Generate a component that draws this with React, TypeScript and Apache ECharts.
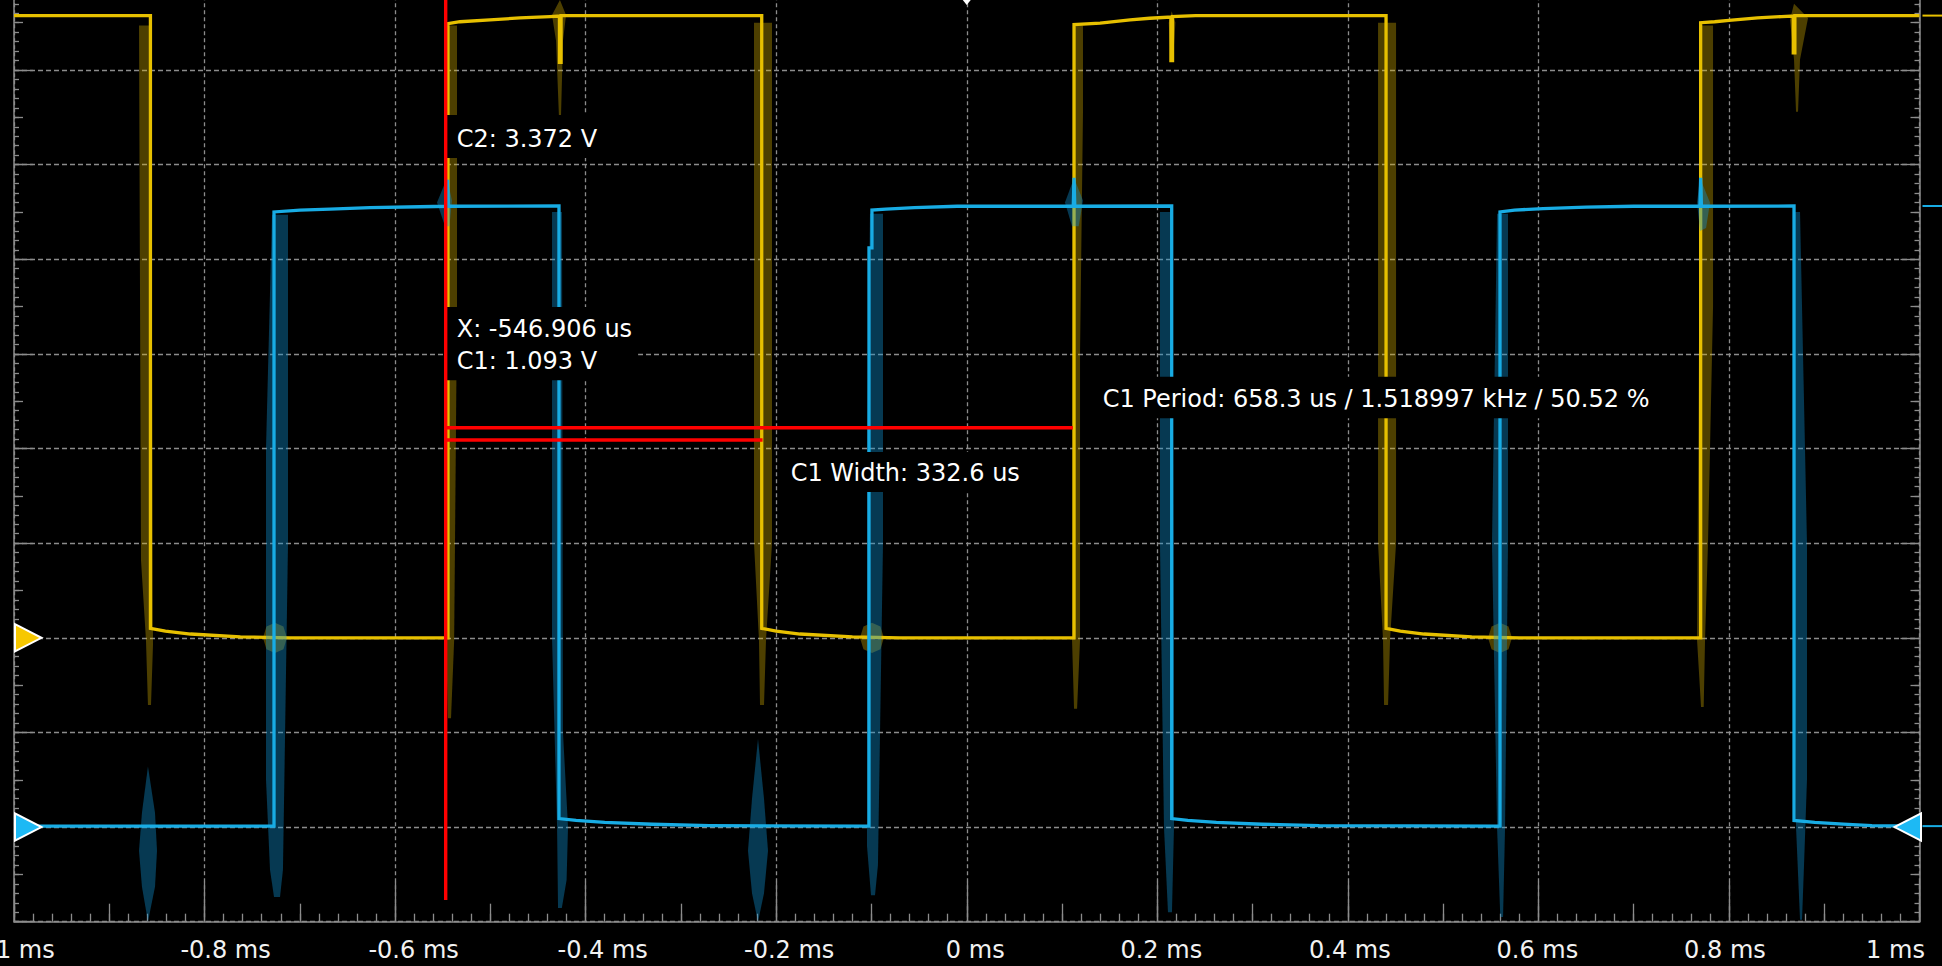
import React, { useEffect, useRef } from 'react';
import * as echarts from 'echarts';

// ---------- axes (time in ms, vertical in screen divisions) ----------
const X_MIN = -1;
const X_MAX = 1;
const X_INTERVAL = 0.2;
const X_HALF_INTERVAL = 0.1;
const X_TICK_LABELS = ['-1', '-0.8', '-0.6', '-0.4', '-0.2', '0', '0.2', '0.4', '0.6', '0.8', '1'];
const X_UNIT = 'ms';
const Y_MIN = 0;
const Y_MAX = 10;

// ---------- channel C2 (yellow) main trace [t ms, div] ----------
const C2_TRACE: number[][] = [
  [-1.0, 9.575], [-0.8568, 9.575], [-0.8568, 3.1], [-0.8411, 3.07], [-0.8148, 3.04], [-0.7624, 3.01],
  [-0.7103, 3.0], [-0.5445, 3.0], [-0.5445, 9.49], [-0.5319, 9.51], [-0.5004, 9.53], [-0.4689, 9.55],
  [-0.4374, 9.565], [-0.4275, 9.57], [-0.4275, 9.08], [-0.4258, 9.08], [-0.4258, 9.575], [-0.2152, 9.575],
  [-0.2152, 3.1], [-0.2, 3.07], [-0.175, 3.04], [-0.12, 3.01], [-0.07, 3.0], [0.1126, 3.0], [0.1126, 9.48],
  [0.14, 9.495], [0.1715, 9.53], [0.192, 9.547], [0.2143, 9.56], [0.2143, 9.1], [0.216, 9.1], [0.216, 9.565],
  [0.24, 9.575], [0.4401, 9.575], [0.4401, 3.1], [0.455, 3.07], [0.48, 3.04], [0.53, 3.01], [0.58, 3.0],
  [0.7703, 3.0], [0.7703, 9.5], [0.785, 9.51], [0.8, 9.525], [0.83, 9.55], [0.855, 9.565], [0.8675, 9.57],
  [0.8675, 9.18], [0.8692, 9.18], [0.8692, 9.575], [1.0, 9.575],
];

// ---------- channel C1 (cyan) main trace ----------
const C1_TRACE: number[][] = [
  [-1.0, 1.01], [-0.7271, 1.01], [-0.7271, 7.5], [-0.6998, 7.52], [-0.6683, 7.53], [-0.6263, 7.545],
  [-0.5739, 7.555], [-0.5458, 7.56], [-0.545, 7.84], [-0.5442, 7.56], [-0.428, 7.563], [-0.428, 1.09],
  [-0.41, 1.07], [-0.38, 1.05], [-0.33, 1.03], [-0.27, 1.015], [-0.1026, 1.01], [-0.1026, 7.12],
  [-0.0995, 7.12], [-0.0995, 7.52], [-0.085, 7.53], [-0.055, 7.545], [-0.01, 7.56], [0.1118, 7.56],
  [0.1126, 7.86], [0.1134, 7.56], [0.2151, 7.563], [0.2151, 1.09], [0.232, 1.07], [0.262, 1.05],
  [0.31, 1.03], [0.37, 1.015], [0.5597, 1.01], [0.5597, 7.5], [0.575, 7.52], [0.605, 7.535], [0.65, 7.55],
  [0.7, 7.56], [0.7695, 7.56], [0.7703, 7.86], [0.7711, 7.56], [0.8683, 7.563], [0.8683, 1.07],
  [0.89, 1.05], [0.92, 1.03], [0.95, 1.015], [1.0, 1.01],
];

// ---------- persistence envelopes (ringing / crosstalk) ----------
const C2_GLOW: number[][][] = [
  [[-0.8688, 9.47], [-0.8562, 9.47], [-0.8541, 2.93], [-0.8562, 2.29], [-0.8594, 2.29], [-0.8615, 2.98], [-0.8667, 3.82]],
  [[-0.5455, 9.47], [-0.535, 9.47], [-0.535, 6.5], [-0.538, 2.98], [-0.5413, 2.15], [-0.5445, 2.15], [-0.5466, 2.98]],
  [[-0.427, 9.74], [-0.4206, 9.58], [-0.4238, 9.31], [-0.4259, 8.5], [-0.428, 8.5], [-0.4311, 9.31], [-0.4353, 9.58]],
  [[-0.2233, 9.5], [-0.2044, 9.5], [-0.2044, 4.0], [-0.2107, 2.98], [-0.2128, 2.29], [-0.217, 2.29], [-0.2181, 2.98], [-0.2233, 4.0]],
  [[0.1115, 9.47], [0.122, 9.47], [0.122, 8.55], [0.1189, 6.0], [0.1189, 2.98], [0.1158, 2.25], [0.1126, 2.25], [0.1105, 2.98]],
  [[0.2151, 9.62], [0.219, 9.5], [0.2165, 9.1], [0.214, 9.1], [0.212, 9.5]],
  [[0.4317, 9.5], [0.4506, 9.5], [0.4506, 4.0], [0.4443, 2.98], [0.4422, 2.29], [0.438, 2.29], [0.4369, 2.98], [0.4317, 4.0]],
  [[0.7707, 9.47], [0.7833, 9.47], [0.7833, 6.5], [0.778, 4.0], [0.7749, 2.98], [0.7735, 2.27], [0.7707, 2.27], [0.7665, 2.98]],
  [[0.8683, 9.7], [0.883, 9.55], [0.8746, 9.11], [0.8725, 8.56], [0.8704, 8.56], [0.8683, 9.11], [0.8641, 9.53]],
  [[-0.7387, 3.0], [-0.735, 3.12], [-0.7261, 3.16], [-0.7172, 3.12], [-0.7135, 3.0], [-0.7172, 2.88], [-0.7261, 2.84], [-0.735, 2.88]],
  [[-0.1121, 3.0], [-0.1084, 3.12], [-0.0995, 3.16], [-0.0906, 3.12], [-0.0869, 3.0], [-0.0906, 2.88], [-0.0995, 2.84], [-0.1084, 2.88]],
  [[0.5471, 3.0], [0.5508, 3.12], [0.5597, 3.16], [0.5686, 3.12], [0.5723, 3.0], [0.5686, 2.88], [0.5597, 2.84], [0.5508, 2.88]],
];

const C1_GLOW: number[][][] = [
  [[-0.7292, 7.47], [-0.7124, 7.47], [-0.7124, 4.0], [-0.7177, 0.55], [-0.7208, 0.26], [-0.7271, 0.26], [-0.7313, 0.55], [-0.7355, 1.5], [-0.7355, 5.0]],
  [[-0.4353, 7.5], [-0.4248, 7.5], [-0.4238, 2.0], [-0.4185, 1.0], [-0.42, 0.44], [-0.425, 0.145], [-0.429, 0.145], [-0.43, 1.0], [-0.4353, 3.0]],
  [[-0.1016, 7.48], [-0.0879, 7.48], [-0.0879, 4.0], [-0.0932, 0.6], [-0.0963, 0.28], [-0.1005, 0.28], [-0.1047, 0.8], [-0.1047, 5.0]],
  [[0.2028, 7.5], [0.2154, 7.5], [0.2175, 3.0], [0.2175, 1.0], [0.2154, 0.1], [0.2112, 0.1], [0.207, 1.0], [0.2028, 4.0]],
  [[0.5566, 7.48], [0.5681, 7.48], [0.5681, 4.0], [0.565, 1.0], [0.5629, 0.05], [0.56, 0.05], [0.5566, 1.0], [0.5513, 4.0]],
  [[0.8683, 7.5], [0.8746, 7.5], [0.8819, 4.0], [0.8819, 1.5], [0.8788, 0.6], [0.8767, 0.02], [0.8746, 0.02], [0.8704, 1.0], [0.8683, 4.0]],
  [[-0.8594, 1.64], [-0.852, 1.15], [-0.8499, 0.75], [-0.852, 0.37], [-0.8594, 0.0], [-0.8657, 0.37], [-0.8688, 0.75], [-0.8657, 1.15]],
  [[-0.2191, 1.93], [-0.2128, 1.3], [-0.2086, 0.75], [-0.2128, 0.3], [-0.2191, 0.0], [-0.2254, 0.3], [-0.2296, 0.75], [-0.2254, 1.3]],
  [[-0.5455, 7.86], [-0.5403, 7.62], [-0.543, 7.35], [-0.5476, 7.35], [-0.556, 7.6]],
  [[0.1126, 7.86], [0.122, 7.62], [0.1175, 7.35], [0.1105, 7.35], [0.1031, 7.6]],
  [[0.7696, 7.86], [0.7801, 7.6], [0.776, 7.33], [0.7696, 7.3], [0.7665, 7.6]],
];

// ---------- cursor / measurement ----------
const CURSOR_LINE: number[][] = [[-0.546906, 0.23], [-0.546906, 10]];
const PERIOD_LINE: number[][] = [[-0.546906, 5.22], [0.111394, 5.22]];
const WIDTH_LINE: number[][] = [[-0.546906, 5.09], [-0.214306, 5.09]];
const READOUT_C2 = 'C2: 3.372 V';
const READOUT_X = 'X: -546.906 us\nC1: 1.093 V';
const READOUT_PERIOD = 'C1 Period: 658.3 us / 1.518997 kHz / 50.52 %';
const READOUT_WIDTH = 'C1 Width: 332.6 us';

// ---------- channel markers ----------
const MARKER_KINDS = ['c2-offset', 'c1-offset', 'c1-trigger', 'c2-edge', 'c1-edge', 'c1-edge', 'trigger-pos'];
const MARKER_T = [-1, -1, 1, 1, 1, 1, 0];
const MARKER_D = [3.0, 1.0, 1.0, 9.575, 7.563, 1.01, 9.74];

// horizontal shift (px) of each tick label's centre from its tick, as laid out in the reference
const X_LABEL_SHIFT = [7, 21, 18.5, 17, 13, 8.5, 4, 2, -1, -4, -24];

const C2_COLOR = '#E7C000';
const C1_COLOR = '#18ACE4';
const C2_MARK = '#F7C800';
const C1_MARK = '#1DB9F4';
const C2_GLOW_COLOR = 'rgba(225,185,0,0.34)';
const C1_GLOW_COLOR = 'rgba(15,150,215,0.38)';
const GRID_COLOR = '#8c8c8c';
const FONT = '"DejaVu Sans", "Noto Sans", sans-serif';
const FONT_SIZE = 24;

function glowSeries(polys: number[][][], color: string, z: number) {
  return {
    type: 'custom',
    xAxisIndex: 0,
    yAxisIndex: 0,
    z,
    silent: true,
    clip: true,
    data: polys.map((p, i) => [p[0][0], p[0][1], i]),
    encode: { x: 0, y: 1 },
    renderItem: (params: any, api: any) => {
      const poly = polys[params.dataIndex];
      return {
        type: 'polygon',
        shape: { points: poly.map((pt) => api.coord(pt)) },
        style: { fill: color },
      };
    },
  };
}

function lineSeries(data: number[][], color: string, width: number, z: number) {
  return {
    type: 'line',
    xAxisIndex: 0,
    yAxisIndex: 0,
    data,
    z,
    silent: true,
    symbol: 'none',
    showSymbol: false,
    clip: true,
    lineStyle: { color, width, cap: 'butt', join: 'miter' },
  };
}

function readout(text: string, x: number, y: number, padding: number[], lineHeight: number) {
  return {
    type: 'text',
    x,
    y,
    z: 50,
    silent: true,
    style: {
      text,
      fill: '#ffffff',
      fontSize: FONT_SIZE,
      fontFamily: FONT,
      lineHeight,
      backgroundColor: '#000000',
      padding,
      align: 'left',
      verticalAlign: 'top',
    },
  };
}

export default function App() {
  const ref = useRef<HTMLDivElement>(null);

  useEffect(() => {
    if (!ref.current) return;
    const chart = echarts.init(ref.current, null, { renderer: 'svg' });

    const axisLineStyle = { color: GRID_COLOR, width: 1.5 };
    const tickStyle = { color: GRID_COLOR, width: 1.3 };

    const rich: any = { t: { color: '#f2f2f2', fontSize: FONT_SIZE, fontFamily: FONT } };
    X_LABEL_SHIFT.forEach((s, i) => {
      rich['s' + i] = { width: Math.abs(s) * 2, fontSize: FONT_SIZE, fontFamily: FONT };
    });

    const option: any = {
      animation: false,
      backgroundColor: '#000000',
      grid: {
        left: 14,
        right: 22.5,
        top: -24.63,
        bottom: 44.3,
        containLabel: false,
        outerBoundsMode: 'none',
      },
      xAxis: [
        {
          type: 'value',
          position: 'bottom',
          min: X_MIN,
          max: X_MAX,
          interval: X_INTERVAL,
          axisLine: { show: true, onZero: false, lineStyle: axisLineStyle },
          axisTick: { show: true, inside: true, length: 40, lineStyle: tickStyle },
          minorTick: { show: true, splitNumber: 10, length: 8, lineStyle: tickStyle },
          splitLine: { show: true, lineStyle: { color: GRID_COLOR, width: 1.3, type: [4, 3] } },
          axisLabel: {
            show: true,
            showMinLabel: true,
            showMaxLabel: true,
            hideOverlap: false,
            margin: 16,
            color: '#f2f2f2',
            fontSize: FONT_SIZE,
            fontFamily: FONT,
            formatter: (v: number) => {
              const i = Math.round((v - X_MIN) / X_INTERVAL);
              const s = `${X_TICK_LABELS[i]} ${X_UNIT}`;
              return X_LABEL_SHIFT[i] >= 0 ? `{s${i}| }{t|${s}}` : `{t|${s}}{s${i}| }`;
            },
            rich,
          },
        },
        {
          type: 'value',
          position: 'bottom',
          min: X_MIN,
          max: X_MAX,
          interval: X_HALF_INTERVAL,
          axisLine: { show: false, onZero: false },
          axisTick: { show: true, inside: true, length: 18, lineStyle: tickStyle },
          splitLine: { show: false },
          axisLabel: { show: false },
        },
      ],
      yAxis: [
        {
          type: 'value',
          position: 'left',
          min: Y_MIN,
          max: Y_MAX,
          interval: 1,
          axisLine: { show: true, onZero: false, lineStyle: axisLineStyle },
          axisTick: { show: true, inside: true, length: 19, lineStyle: tickStyle },
          minorTick: { show: true, splitNumber: 10, length: 5, lineStyle: tickStyle },
          splitLine: { show: true, lineStyle: { color: GRID_COLOR, width: 1.3, type: [5, 3] } },
          axisLabel: { show: false },
        },
        {
          type: 'value',
          position: 'left',
          min: Y_MIN,
          max: Y_MAX,
          interval: 0.5,
          axisLine: { show: false, onZero: false },
          axisTick: { show: true, inside: true, length: 9, lineStyle: tickStyle },
          splitLine: { show: false },
          axisLabel: { show: false },
        },
        {
          type: 'value',
          position: 'right',
          min: Y_MIN,
          max: Y_MAX,
          interval: 1,
          axisLine: { show: true, onZero: false, lineStyle: axisLineStyle },
          axisTick: { show: true, inside: true, length: 19, lineStyle: tickStyle },
          minorTick: { show: true, splitNumber: 10, length: 5, lineStyle: tickStyle },
          splitLine: { show: false },
          axisLabel: { show: false },
        },
        {
          type: 'value',
          position: 'right',
          min: Y_MIN,
          max: Y_MAX,
          interval: 0.5,
          axisLine: { show: false, onZero: false },
          axisTick: { show: true, inside: true, length: 9, lineStyle: tickStyle },
          splitLine: { show: false },
          axisLabel: { show: false },
        },
      ],
      series: [
        glowSeries(C2_GLOW, C2_GLOW_COLOR, 1),
        lineSeries(C2_TRACE, C2_COLOR, 3.3, 2),
        glowSeries(C1_GLOW, C1_GLOW_COLOR, 3),
        lineSeries(C1_TRACE, C1_COLOR, 3.3, 4),
        {
          type: 'custom',
          xAxisIndex: 0,
          yAxisIndex: 0,
          z: 6,
          silent: true,
          clip: false,
          data: MARKER_T.map((t, i) => [t, MARKER_D[i]]),
          encode: { x: 0, y: 1 },
          renderItem: (params: any, api: any) => {
            const i = params.dataIndex;
            const kind = MARKER_KINDS[i];
            const [x, y] = api.coord([MARKER_T[i], MARKER_D[i]]);
            if (kind === 'c2-offset' || kind === 'c1-offset') {
              return {
                type: 'polygon',
                shape: { points: [[x + 1, y - 13.6], [x + 27.5, y], [x + 1, y + 13.6]] },
                style: { fill: kind === 'c2-offset' ? C2_MARK : C1_MARK, stroke: '#ffffff', lineWidth: 2 },
              };
            }
            if (kind === 'c1-trigger') {
              return {
                type: 'polygon',
                shape: { points: [[x + 1.5, y - 13.6], [x - 25, y], [x + 1.5, y + 13.6]] },
                style: { fill: C1_MARK, stroke: '#ffffff', lineWidth: 2 },
              };
            }
            if (kind === 'c2-edge' || kind === 'c1-edge') {
              return {
                type: 'line',
                shape: { x1: x + 3, y1: y, x2: x + 30, y2: y },
                style: { stroke: kind === 'c2-edge' ? C2_COLOR : C1_COLOR, lineWidth: 2 },
              };
            }
            return {
              type: 'polygon',
              shape: { points: [[x - 4, y], [x + 4, y], [x, y + 5]] },
              style: { fill: '#ffffff' },
            };
          },
        },
        lineSeries(CURSOR_LINE, '#ff0000', 3.4, 60),
        lineSeries(PERIOD_LINE, '#ff0000', 3.4, 60),
        lineSeries(WIDTH_LINE, '#ff0000', 3.4, 60),
      ],
      graphic: {
        elements: [
          readout(READOUT_C2, 447, 115, [10.5, 8, 5.5, 9.7], 27),
          readout(READOUT_X, 447, 307, [5.7, 6, 3.5, 9.7], 32),
          readout(READOUT_PERIOD, 1092.7, 376.7, [8.8, 10, 5.8, 10], 27),
          readout(READOUT_WIDTH, 780.7, 452, [7.5, 10, 5.5, 10], 27),
        ],
      },
    };

    chart.setOption(option);
    return () => chart.dispose();
  }, []);

  return (
    <div
      ref={ref}
      style={{ position: 'fixed', left: 0, top: 0, width: 1942, height: 966, background: '#000' }}
    />
  );
}
